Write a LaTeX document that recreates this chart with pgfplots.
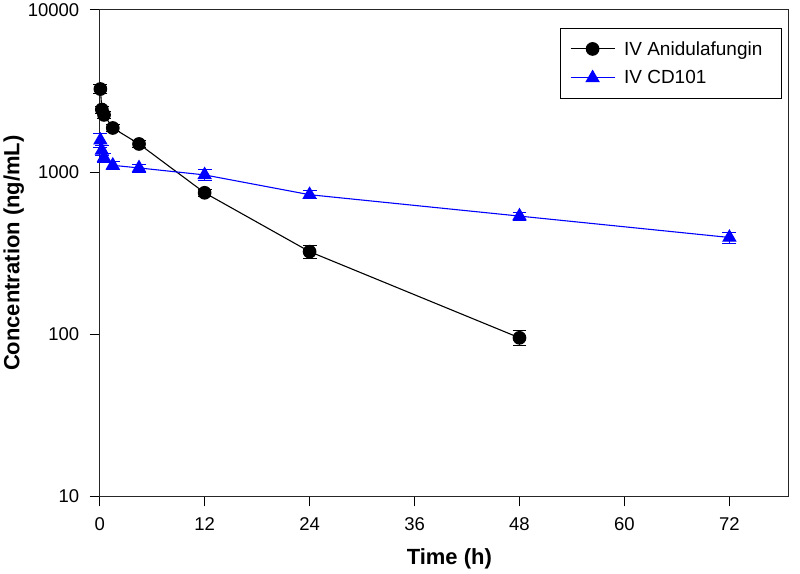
\documentclass[border=0pt]{standalone}
\usepackage[no-math]{fontspec}
\setmainfont{Liberation Sans}
\usepackage{pgfplots}
\pgfplotsset{compat=1.18}
\definecolor{cdblue}{RGB}{0,0,255}
\newcommand{\tkf}{\fontsize{18.5}{20}\selectfont}
\begin{document}
\begin{tikzpicture}
\begin{axis}[
  scale only axis, width=689pt, height=487pt,
  xmin=0, xmax=78.7, ymin=10, ymax=10000, ymode=log,
  xtick={0,12,24,36,48,60,72},
  xticklabels={{\tkf 0},{\tkf 12},{\tkf 24},{\tkf 36},{\tkf 48},{\tkf 60},{\tkf 72}},
  ytick={10,100,1000,10000},
  yticklabels={{\tkf 10},{\tkf 100},{\tkf 1000},{\tkf 10000}},
  yminorticks=false,
  tick align=outside, xtick pos=bottom, ytick pos=left,
  major tick length=10pt,
  tick style={black, line width=0.9pt},
  axis line style={line width=0.9pt, black!85},
  xticklabel style={yshift=-8pt},
  yticklabel style={xshift=-7pt},
  label style={font=\fontsize{22}{24}\selectfont\bfseries},
  xlabel={Time (h)},
  ylabel={Concentration (ng/mL)},
  xlabel style={at={(axis description cs:0.508,-0.128)}, anchor=center},
  ylabel style={at={(axis description cs:-0.125,0.5)}, anchor=center, rotate=0},
  clip=false,
  legend cell align=left,
  legend style={at={(axis description cs:0.991,0.963)}, anchor=north east,
    draw=black, line width=0.9pt, font=\fontsize{19}{21}\selectfont,
    inner xsep=10pt, inner ysep=12pt, row sep=12pt,
    nodes={inner xsep=9pt, inner ysep=1pt}},
  legend image code/.code={%
    \draw[mark repeat=2,mark phase=2,#1] plot coordinates {(0pt,0pt) (22pt,0pt) (44pt,0pt)};},
]
\addplot[black, line width=1.1pt, mark=*, mark size=6.3pt, mark options={solid, fill=black},
  error bars/.cd, y dir=both, y explicit,
  error mark options={rotate=90, mark size=7pt, line width=1pt, black},
  error bar style={line width=1pt, black}]
  coordinates {
  (0.083,3250) +- (0,200)
  (0.25,2430) +- (0,120)
  (0.5,2250) +- (0,100)
  (1.5,1870) +- (0,100)
  (4.5,1490) +- (0,80)
  (12,745) +- (0,40)
  (24,323) +- (0,30)
  (48,95) +- (0,10)
  };
\addlegendentry{IV Anidulafungin}
\addplot[cdblue, line width=1.1pt, mark=triangle*, mark size=7.3pt, mark options={solid, fill=cdblue},
  error bars/.cd, y dir=both, y explicit,
  error mark options={rotate=90, mark size=7pt, line width=1pt, cdblue},
  error bar style={line width=1pt, cdblue}]
  coordinates {
  (0.083,1570) +- (0,150)
  (0.25,1360) +- (0,100)
  (0.5,1228) +- (0,80)
  (1.5,1100) +- (0,60)
  (4.5,1060) +- (0,60)
  (12,960) +- (0,70)
  (24,725) +- (0,40)
  (48,535) +- (0,30)
  (72,395) +- (0,30)
  };
\addlegendentry{IV CD101}
\end{axis}
\path (current axis.south west) ++(-99pt,-77pt) rectangle ++(800pt,573pt);
\end{tikzpicture}
\end{document}
